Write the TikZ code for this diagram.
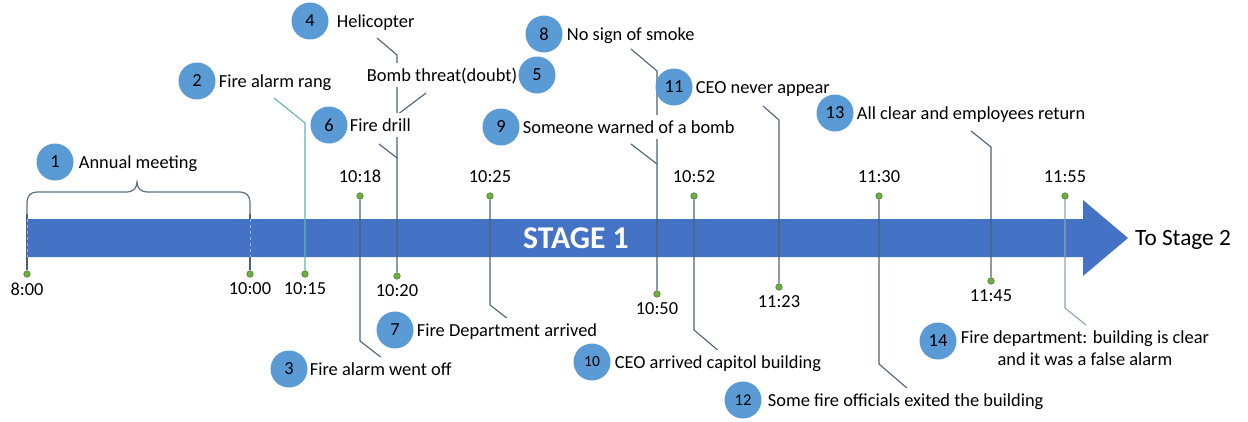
\documentclass[tikz,border=0pt]{standalone}
\usepackage{fontspec}
\setmainfont{Carlito}
\usepackage{tikz}
\usepackage{xcolor}
\definecolor{bandblue}{HTML}{4472C4}
\definecolor{bandedge}{HTML}{9DB5E2}
\definecolor{numblue}{HTML}{5B9BD5}
\definecolor{dotgreen}{HTML}{70AD47}
\definecolor{dotedge}{HTML}{4E7F30}
\definecolor{leadgray}{HTML}{4A6278}
\definecolor{leadteal}{HTML}{62B3B4}
\definecolor{leadlight}{HTML}{8FA3B8}
\definecolor{bracegray}{HTML}{5B7082}
\newcommand{\labelfont}{\fontsize{18.4}{22}\selectfont}
\tikzstyle{num} = [circle, fill=numblue, minimum size=37pt, inner sep=0pt, font=\labelfont]
\tikzstyle{note} = [fill=white, inner sep=1pt, text height=17.4pt, text depth=3.7pt, font=\labelfont]
\tikzstyle{tick} = [circle, fill=dotgreen, draw=dotedge, line width=0.6pt, inner sep=0pt, minimum size=6.5pt]
\tikzstyle{time} = [inner sep=0pt, text depth=0pt, font=\labelfont]
\tikzstyle{lead} = [draw=leadgray, line width=1.1pt]
\tikzstyle{bracket} = [draw=bracegray, line width=1.2pt]
\pgfdeclarelayer{back}
\pgfdeclarelayer{lines}
\pgfsetlayers{back,lines,main}

\begin{document}
\begin{tikzpicture}[x=1pt,y=-1pt]
\useasboundingbox (0,0) rectangle (1248,421);

% time points on the arrow
\node[tick] (d800) at (27,274) {};
\node[tick] (d1000) at (250,274) {};
\node[tick] (d1015) at (305,274) {};
\node[tick] (d1018) at (360,196) {};
\node[tick] (d1020) at (397,276) {};
\node[tick] (d1025) at (490,196) {};
\node[tick] (d1050) at (657,294) {};
\node[tick] (d1052) at (694,196) {};
\node[tick] (d1123) at (779,287) {};
\node[tick] (d1130) at (879,196) {};
\node[tick] (d1145) at (991,281) {};
\node[tick] (d1155) at (1065,196) {};

\node[time, below=5pt] at (d800.south) {8:00};
\node[time, below=5pt] at (d1000.south) {10:00};
\node[time, below=5pt] at (d1015.south) {10:15};
\node[time, above=10pt] at (d1018.north) {10:18};
\node[time, below=5pt] at (d1020.south) {10:20};
\node[time, above=10pt] at (d1025.north) {10:25};
\node[time, below=5pt] at (d1050.south) {10:50};
\node[time, above=10pt] at (d1052.north) {10:52};
\node[time, below=5pt] at (d1123.south) {11:23};
\node[time, above=10pt] at (d1130.north) {11:30};
\node[time, below=5pt] at (d1145.south) {11:45};
\node[time, above=10pt] at (d1155.north) {11:55};

% numbered events
\node[num] (n1) at (55,162) {1};
\node[note, right=4pt] (t1) at (n1.east) {Annual meeting};
\node[num] (n2) at (197,81) {2};
\node[note, right=2pt] (t2) at (n2.east) {Fire alarm rang};
\node[num] (n3) at (289,369) {3};
\node[note, right=1pt] (t3) at (n3.east) {Fire alarm went off};
\node[num] (n4) at (310,21) {4};
\node[note, right=7pt] (t4) at (n4.east) {Helicopter};
\node[num] (n5) at (537,75) {5};
\node[note, left=0pt] (t5) at (n5.west) {Bomb threat(doubt)};
\node[num] (n6) at (329,125) {6};
\node[note, right=1pt] (t6) at (n6.east) {Fire drill};
\node[num] (n7) at (395,330) {7};
\node[note, right=2pt] (t7) at (n7.east) {Fire Department arrived};
\node[num] (n8) at (544,34) {8};
\node[note, right=3pt] (t8) at (n8.east) {No sign of smoke};
\node[num] (n9) at (501,127) {9};
\node[note, right=2pt] (t9) at (n9.east) {Someone warned of a bomb};
\node[num, font=\fontsize{15.5}{18}\selectfont] (n10) at (592,362) {10};
\node[note, right=3pt] (t10) at (n10.east) {CEO arrived capitol building};
\node[num] (n11) at (674,87) {11};
\node[note, right=2pt] (t11) at (n11.east) {CEO never appear};
\node[num, font=\fontsize{16.5}{18}\selectfont] (n12) at (743,400) {12};
\node[note, right=5pt] (t12) at (n12.east) {Some fire officials exited the building};
\node[num] (n13) at (835,113) {13};
\node[note, right=2pt] (t13) at (n13.east) {All clear and employees return};
\node[num] (n14) at (938,341) {14};
\node[fill=white, inner sep=1pt, font=\labelfont, align=center, anchor=west, yshift=-7pt] (t14) at ([xshift=3pt]n14.east) {Fire department: building is clear\\and it was a false alarm};

% callout ends
\coordinate (b0) at (27,214);
\coordinate (b1) at (250,214);
\coordinate (c2) at (274,98);
\coordinate (c3) at (382,358);
\coordinate (c4) at (377,38);
\coordinate (c5) at (426,93);
\coordinate (c6) at (379,144);
\coordinate (c7) at (508,319);
\coordinate (c8) at (631,49);
\coordinate (c9) at (631,144);
\coordinate (c10) at (720,352);
\coordinate (c11) at (763,106);
\coordinate (c12) at (908,389);
\coordinate (c13) at (971,131);
\coordinate (c14) at (1086,325);
\coordinate (tip) at (1128,238);

\begin{pgfonlayer}{back}
\draw[lead] (d800) -- (b0);
\draw[lead] (d1000) -- (b1);
\fill[bandblue] (27,219) -- (1083,219) -- (1083,200) -- (tip) -- (1083,276) -- (1083,257) -- (27,257) -- cycle;
\end{pgfonlayer}

\node[text=white, inner sep=0pt, font=\bfseries\fontsize{31.7}{36}\selectfont] (stage) at (576,238) {STAGE 1};
\node[inner sep=0pt, text height=15pt, text depth=0pt, font=\fontsize{23.3}{28}\selectfont, right=7pt] (next) at (tip) {To Stage 2};

\begin{pgfonlayer}{lines}
\draw[bandedge, dashed, line width=1pt] (27,219) -- (27,257);
\draw[bandedge, dashed, line width=1pt] (250,219) -- (250,257);
\draw[bracket] (b0) -- (27,202) .. controls (27,196) and (31,192) .. (37,192) -- (127,192)
  .. controls (133,192) and (137,188) .. (137,182) .. controls (137,188) and (141,192) .. (147,192)
  -- (240,192) .. controls (246,192) and (250,196) .. (250,202) -- (b1);
\draw[lead, draw=leadteal] (d1015) -- (d1015 |- 0,123) -- (c2);
\draw[lead] (d1018) -- (d1018 |- 0,341) -- (c3);
\draw[lead] (d1020) -- (d1020 |- 0,55) -- (c4);
\draw[lead] (c5) -- (d1020 |- 0,115);
\draw[lead] (c6) -- (d1020 |- 0,158);
\draw[lead] (d1025) -- (d1025 |- 0,305) -- (c7);
\draw[lead] (d1050) -- (d1050 |- 0,71) -- (c8);
\draw[lead] (c9) -- (d1050 |- 0,164);
\draw[lead] (d1052) -- (d1052 |- 0,330) -- (c10);
\draw[lead] (d1123) -- (d1123 |- 0,120) -- (c11);
\draw[lead] (d1130) -- (d1130 |- 0,364) -- (c12);
\draw[lead] (d1145) -- (d1145 |- 0,147) -- (c13);
\draw[lead, draw=leadlight] (d1155) -- (d1155 |- 0,308) -- (c14);
\end{pgfonlayer}
\end{tikzpicture}
\end{document}
